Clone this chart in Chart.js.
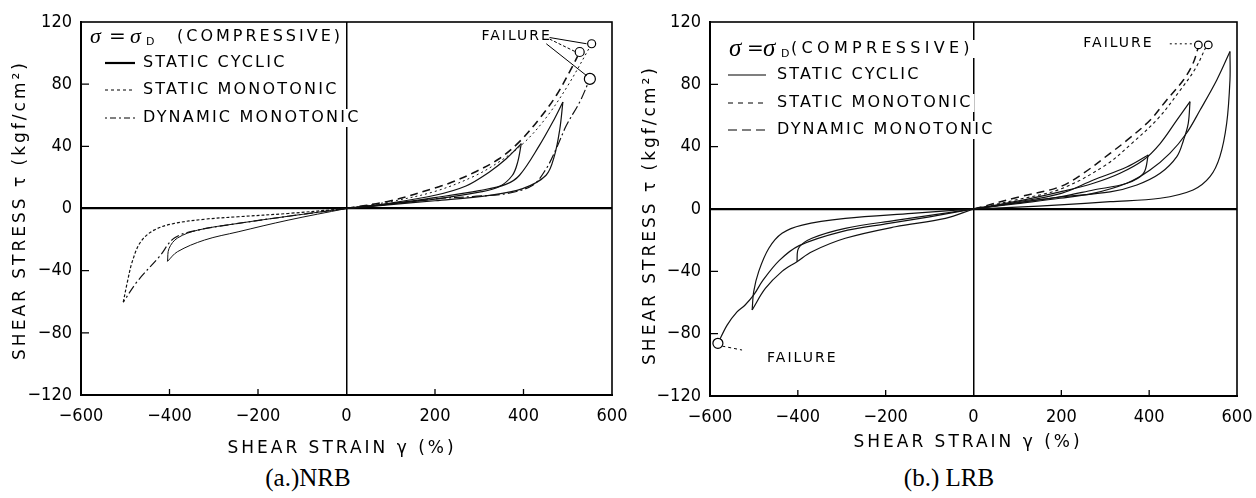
<!DOCTYPE html>
<html>
<head>
<meta charset="utf-8">
<script src="https://cdn.jsdelivr.net/npm/chart.js@4.4.1/dist/chart.umd.min.js"></script>
<style>
  html, body { margin: 0; padding: 0; background: #fff; }
  body { width: 1256px; height: 498px; position: relative; overflow: hidden; }
  .box { position: absolute; top: 0; width: 628px; height: 462px; }
  #boxA { left: 0; }
  #boxB { left: 628px; }
  .cap { position: absolute; top: 464px; font-family: 'Liberation Serif', 'Times New Roman', serif;
         font-size: 25px; color: #000; transform: translateX(-50%); white-space: nowrap; }
</style>
</head>
<body>
<div class="box" id="boxA"><canvas id="nrb"></canvas></div>
<div class="box" id="boxB"><canvas id="lrb"></canvas></div>
<div class="cap" style="left:308px">(a.)NRB</div>
<div class="cap" style="left:949px">(b.) LRB</div>
<script>
// axis ticks, shared by both panels
const xTicks = [-600, -400, -200, 0, 200, 400, 600];
const yTicks = [-120, -80, -40, 0, 40, 80, 120];

// ---- (a) NRB : [shear strain %, shear stress kgf/cm2] ----
const nrbUp400 = [[0,0],[100,3.5],[200,8.5],[270,14.5],[323,23.5],[361,32],[395,41.7]];
const nrbDown400 = [[395,41.7],[387,30],[375,21.4],[345,14],[300,10.5],[200,6],[100,3],[0,0]];
const nrbUp490 = [[0,0],[100,3],[200,7],[300,11.5],[360,15.5],[391,21.4],[436,40.6],[466,55.6],[489,68.5]];
const nrbDown490 = [[489,68.5],[482,51],[470,34],[451,21.4],[398,12.8],[323,8.5],[200,5],[100,2.5],[0,0]];
const nrbLowNeg500 = [[0,0],[-132,-5],[-245,-9.6],[-336,-13.9],[-389,-19],[-423,-31],[-473,-47],[-504.5,-60.3]];
const nrbUpNeg500 = [[-504.5,-60.3],[-495,-47],[-484,-34],[-465,-21.4],[-435,-13.9],[-389,-9.6],[-321,-6.9],[-245,-5.3],[-132,-3.2],[0,0]];
const nrbLowNeg400 = [[0,0],[-132,-7.5],[-245,-15],[-321,-20.3],[-382,-27.8],[-404.5,-34]];
const nrbUpNeg400 = [[-404.5,-34],[-401,-25.7],[-382,-19],[-336,-13.9],[-245,-9.6],[-132,-5],[0,0]];
const nrbStaticMono = [[0,0],[100,4.5],[200,11],[290,21],[350,31],[400,42],[450,58],[500,79],[554,106]];
const nrbDynamicMono = [[0,0],[100,5],[209,14],[239,17],[292,23.7],[345,32],[391,43],[436,57.8],[474,72.7],[508,90],[527,100.7]];
const nrbLastCycle = [[0,0],[100,3],[209,6.4],[285,7.7],[361,9.6],[421,15],[451.5,25.7],[474,38.5],[497,53.5],[527,68.5],[550,83.4]];
const nrbFailPts = [[554,106],[527,100.7],[550,83.4]];
const nrbFailSize = [4, 4.5, 5.5];
const nrbLeaders = [[[459,110],[542.5,106]], [[459,109],[520,100.5]], [[451.5,106],[542.5,85.5]]];
const nrbFailText = [[305, 111]];

// ---- (b) LRB ----
const lrbUp580 = [[0,0],[100,3.5],[197,6.9],[272,10],[349,16.5],[402,25],[447,35.7],[485,48.6],[516,63.5],[554,82.8],[584,101]];
const lrbDown580 = [[584,101],[584,82.8],[576.5,55],[561,33.6],[538.5,20.7],[500,12.2],[425,6.9],[311,4.7],[197,2.6],[100,1.2],[0,0]];
const lrbUp490 = [[0,0],[100,5],[197,11],[273,16.5],[333.6,22.9],[387,31.4],[425,42],[463,57],[493,68.9]];
const lrbDown490 = [[493,68.9],[489,55],[478,44],[463,33.6],[425,22.9],[372,15.4],[311,11],[197,7.7],[100,4],[0,0]];
const lrbUp400 = [[0,0],[100,4.5],[200,10],[273,18.6],[349,27],[398,34.7]];
const lrbDown400 = [[398,34.7],[387,22.9],[349,16.5],[273,12.2],[200,8],[100,4],[0,0]];
const lrbLowNeg500 = [[0,0],[-64,-6],[-178,-11.4],[-292,-18.8],[-368,-27.4],[-402,-33.8],[-436,-40],[-474,-51],[-504,-64.8]];
const lrbUpNeg500 = [[-504,-64.8],[-500.5,-53],[-489,-40],[-466,-25.2],[-436,-15.6],[-390,-10.3],[-292,-6],[-140,-2.8],[0,0]];
const lrbUpNeg400 = [[-402,-33.8],[-398,-25],[-368,-18.8],[-292,-12.4],[-178,-7.3],[-60,-2.5],[0,0]];
const lrbToFailure = [[0,0],[-100,-5],[-200,-9.5],[-300,-14.5],[-397,-23.5],[-442,-33],[-480,-46],[-500,-55],[-520,-61.6],[-538.5,-66],[-561,-74.5],[-582,-86.2]];
const lrbStaticMono = [[0,0],[100,6],[200,13],[300,28],[360,42],[420,58],[470,76],[505,90],[531,105]];
const lrbDynamicMono = [[0,0],[106,7.9],[197,14.3],[250,22.9],[311,35.7],[349,44],[402,57],[440,70],[478,82.8],[500,93.5],[512,104]];
const lrbFailPts = [[512,105.3],[534.6,105.3],[-582,-86.2]];
const lrbFailSize = [3.8, 3.8, 5];
const lrbLeaders = [[[447,106],[505,106]], [[-572,-88],[-527,-90.5]]];
const lrbFailText = [[250, 106], [-470, -95.6]];

const SANS = '"DejaVu Sans", sans-serif';
const TICKFONT = '"Liberation Sans Narrow", "DejaVu Sans Condensed", "DejaVu Sans", sans-serif';

function xy(pts) { return pts.map(p => ({ x: p[0], y: p[1] })); }

function curve(pts, dash, width) {
  return {
    data: xy(pts), showLine: true, fill: false, tension: 0.35,
    borderColor: '#111', borderWidth: width || 1.2, borderDash: dash || [],
    pointRadius: 0, pointHoverRadius: 0
  };
}

function marks(pts, radii) {
  return {
    data: xy(pts), showLine: false, order: -1,
    pointRadius: radii, pointBackgroundColor: '#fff',
    pointBorderColor: '#000', pointBorderWidth: 1.2
  };
}

// frame, inward ticks, axis titles, legend block and FAILURE notes
const paper = {
  id: 'paper',
  afterDraw(chart, args, o) {
    const { ctx, chartArea: a, scales: { x, y } } = chart;
    ctx.save();
    ctx.strokeStyle = '#000';
    ctx.fillStyle = '#000';
    ctx.lineWidth = 1.6;
    ctx.strokeRect(a.left, a.top, a.right - a.left, a.bottom - a.top);

    ctx.lineWidth = 1.3;
    ctx.beginPath();
    yTicks.filter(v => Math.abs(v) !== 120 && v !== 0).forEach(v => {
      const py = y.getPixelForValue(v);
      ctx.moveTo(a.left, py); ctx.lineTo(a.left + 8, py);
    });
    xTicks.filter(v => Math.abs(v) !== 600 && v !== 0).forEach(v => {
      const px = x.getPixelForValue(v);
      ctx.moveTo(px, a.bottom); ctx.lineTo(px, a.bottom - 6);
    });
    ctx.stroke();

    // axis titles
    ctx.font = '17px ' + SANS;
    ctx.letterSpacing = '3px';
    ctx.textAlign = 'center';
    ctx.textBaseline = 'middle';
    ctx.fillText('SHEAR STRAIN \u03B3 (%)', o.xTitle[0], o.xTitle[1]);
    ctx.save();
    ctx.translate(o.yTitle[0], o.yTitle[1]);
    ctx.rotate(-Math.PI / 2);
    ctx.fillText('SHEAR STRESS \u03C4 (kgf/cm\u00B2)', 0, 0);
    ctx.restore();

    // legend header: sigma = sigma_D (COMPRESSIVE)
    const h = o.head;
    ctx.textAlign = 'left';
    ctx.letterSpacing = '0px';
    ctx.font = '16px ' + SANS;
    ctx.letterSpacing = h.spacing + 'px';
    let w = ctx.measureText('(COMPRESSIVE)').width;
    ctx.fillStyle = '#fff';
    ctx.fillRect(h.comp, h.y - 9, w + 2, 18);
    ctx.fillStyle = '#000';
    ctx.fillText('(COMPRESSIVE)', h.comp, h.y);
    ctx.letterSpacing = '0px';
    ctx.font = 'italic ' + h.sigSize + 'px "Liberation Serif", serif';
    ctx.fillText('\u03C3', h.sig1, h.y);
    ctx.fillText('\u03C3', h.sig2, h.y);
    ctx.font = '20px ' + SANS;
    ctx.fillText('=', h.eq, h.y);
    ctx.font = '11px ' + SANS;
    ctx.fillText('D', h.sub, h.y + 5);

    // legend rows
    ctx.font = '16px ' + SANS;
    ctx.letterSpacing = '2.2px';
    o.rows.forEach(r => {
      w = ctx.measureText(r.text).width;
      ctx.fillStyle = '#fff';
      ctx.fillRect(o.textX - 2, r.y - 9, w + 4, 18);
      ctx.fillStyle = '#000';
      ctx.fillText(r.text, o.textX, r.y);
      ctx.beginPath();
      ctx.setLineDash(r.dash);
      ctx.lineWidth = r.width;
      ctx.moveTo(o.sample[0], r.y);
      ctx.lineTo(o.sample[1], r.y);
      ctx.stroke();
    });
    ctx.setLineDash([]);

    // FAILURE notes and leader lines
    ctx.font = '14px ' + SANS;
    ctx.letterSpacing = '2px';
    o.notes.forEach(p => ctx.fillText('FAILURE', x.getPixelForValue(p[0]), y.getPixelForValue(p[1])));
    ctx.lineWidth = 1;
    o.leaders.forEach((seg, i) => {
      ctx.setLineDash(o.leaderDash[i] || []);
      ctx.beginPath();
      ctx.moveTo(x.getPixelForValue(seg[0][0]), y.getPixelForValue(seg[0][1]));
      ctx.lineTo(x.getPixelForValue(seg[1][0]), y.getPixelForValue(seg[1][1]));
      ctx.stroke();
    });
    ctx.restore();
  }
};

function tickText(v) { return v < 0 ? '\u2212' + Math.abs(v) : String(v); }

function makeChart(id, datasets, area, paperOpts) {
  return new Chart(document.getElementById(id), {
    type: 'scatter',
    data: { datasets: datasets },
    options: {
      responsive: true,
      maintainAspectRatio: false,
      animation: false,
      events: [],
      layout: { padding: { top: area.top, right: 628 - area.right, left: 0, bottom: 0 } },
      plugins: { legend: { display: false }, tooltip: { enabled: false }, paper: paperOpts },
      scales: {
        x: {
          type: 'linear', min: -600, max: 600,
          afterBuildTicks: s => { s.ticks = xTicks.map(v => ({ value: v })); },
          afterFit: s => { s.height = 462 - area.bottom; s.paddingLeft = 0; s.paddingRight = 0; },
          ticks: { color: '#000', padding: 11, maxRotation: 0, font: { family: TICKFONT, size: 18 }, callback: tickText },
          grid: {
            drawTicks: false,
            color: c => (c.tick && c.tick.value === 0) ? '#000' : 'rgba(0,0,0,0)',
            lineWidth: c => (c.tick && c.tick.value === 0) ? 1.5 : 1
          },
          border: { color: '#000', width: 2 }
        },
        y: {
          type: 'linear', min: -120, max: 120,
          afterBuildTicks: s => { s.ticks = yTicks.map(v => ({ value: v })); },
          afterFit: s => { s.width = area.left; s.paddingTop = 0; s.paddingBottom = 0; },
          ticks: { color: '#000', padding: 9, font: { family: TICKFONT, size: 18 }, callback: tickText },
          grid: {
            drawTicks: false,
            color: c => (c.tick && c.tick.value === 0) ? '#000' : 'rgba(0,0,0,0)',
            lineWidth: c => (c.tick && c.tick.value === 0) ? 2.2 : 1
          },
          border: { color: '#000', width: 2 }
        }
      }
    },
    plugins: [paper]
  });
}

makeChart('nrb', [
  marks(nrbFailPts, nrbFailSize),
  curve(nrbUp400), curve(nrbDown400), curve(nrbUp490), curve(nrbDown490),
  curve(nrbLowNeg500, [9, 3, 2, 3]), curve(nrbUpNeg500, [3, 2]),
  curve(nrbLowNeg400, [], 1), curve(nrbUpNeg400, [], 1),
  curve(nrbStaticMono, [2, 3], 1),
  curve(nrbDynamicMono, [8, 5], 1.6),
  curve(nrbLastCycle, [10, 3, 2, 3], 1.2)
], { left: 81, right: 612, top: 22, bottom: 395 }, {
  xTitle: [342, 449], yTitle: [21, 210],
  head: { y: 37, sigSize: 22, sig1: 90, eq: 109, sig2: 130, sub: 146, comp: 177, spacing: 3 },
  rows: [
    { text: 'STATIC CYCLIC', y: 63, dash: [], width: 2.2 },
    { text: 'STATIC MONOTONIC', y: 90, dash: [3, 3], width: 1 },
    { text: 'DYNAMIC MONOTONIC', y: 118, dash: [2, 3, 6, 3], width: 1 }
  ],
  sample: [105, 135], textX: 143,
  notes: nrbFailText, leaders: nrbLeaders, leaderDash: [[], [3, 2], []]
});

makeChart('lrb', [
  marks(lrbFailPts, lrbFailSize),
  curve(lrbUp580), curve(lrbDown580), curve(lrbUp490), curve(lrbDown490),
  curve(lrbUp400), curve(lrbDown400),
  curve(lrbLowNeg500), curve(lrbUpNeg500), curve(lrbUpNeg400), curve(lrbToFailure),
  curve(lrbStaticMono, [3, 3], 1.1),
  curve(lrbDynamicMono, [8, 5], 1.5)
], { left: 82, right: 609, top: 22, bottom: 396 }, {
  xTitle: [340, 443], yTitle: [23, 215],
  head: { y: 49, sigSize: 25, sig1: 101, eq: 119, sig2: 135, sub: 153, comp: 163, spacing: 4.3 },
  rows: [
    { text: 'STATIC CYCLIC', y: 75, dash: [], width: 1.2 },
    { text: 'STATIC MONOTONIC', y: 103, dash: [5, 5], width: 1.2 },
    { text: 'DYNAMIC MONOTONIC', y: 130, dash: [9, 5], width: 1.2 }
  ],
  sample: [100, 138], textX: 149,
  notes: lrbFailText, leaders: lrbLeaders, leaderDash: [[2, 3], [3, 3]]
});
</script>
</body>
</html>
